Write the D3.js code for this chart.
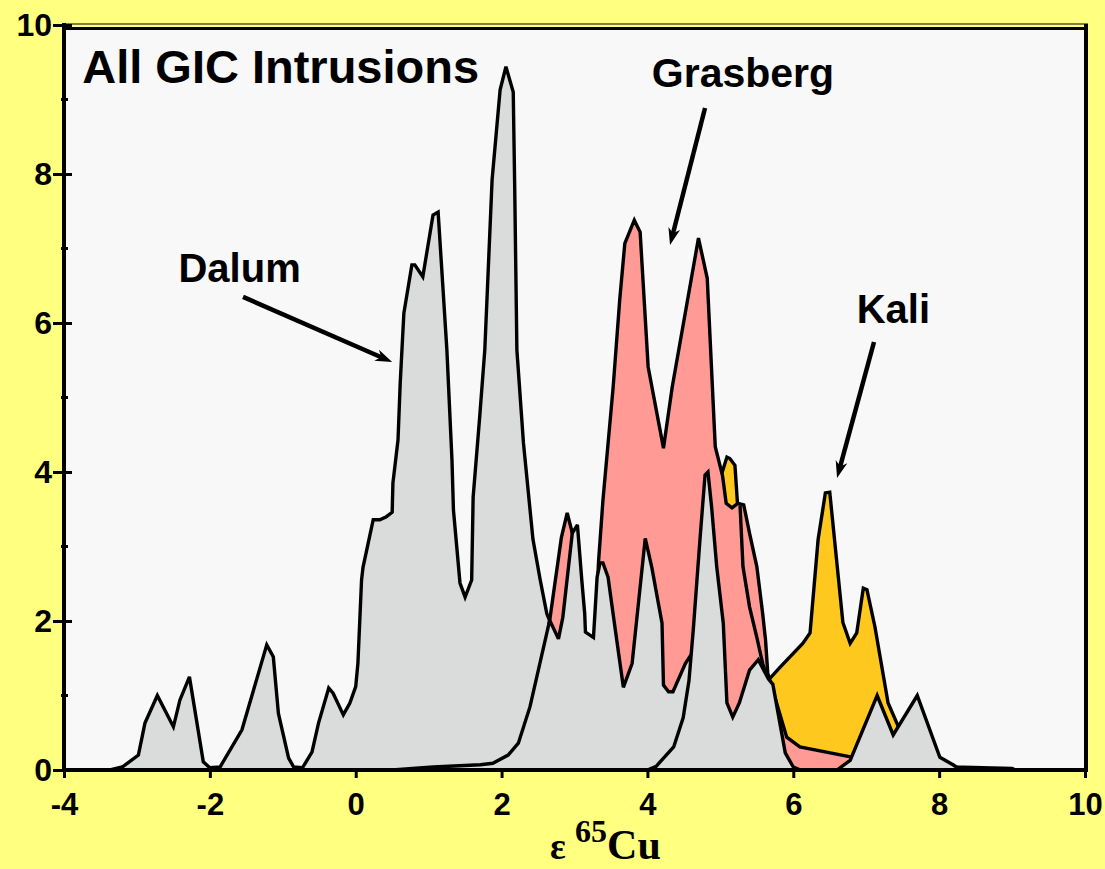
<!DOCTYPE html>
<html>
<head>
<meta charset="utf-8">
<script src="https://cdn.jsdelivr.net/npm/d3@7/dist/d3.min.js"></script>
<style>
  body { margin: 0; background: #ffff80; }
  svg { display: block; }
</style>
</head>
<body>
<div id="chart"></div>
<script>
// probability curves, [eps65Cu, frequency]
var dalum = [[-4,0],[-3.37,0],[-3.2,0.04],[-2.98,0.2],[-2.89,0.63],[-2.72,1.0],[-2.5,0.58],[-2.41,0.94],[-2.28,1.25],
  [-2.09,0.11],[-2.0,0.03],[-1.86,0.04],[-1.56,0.54],[-1.22,1.68],[-1.13,1.52],[-1.06,0.76],[-0.92,0.16],[-0.85,0.04],
  [-0.73,0.03],[-0.6,0.24],[-0.51,0.63],[-0.37,1.1],[-0.31,1.03],[-0.17,0.74],[-0.08,0.9],[0.0,1.12],[0.03,1.43],
  [0.08,2.55],[0.1,2.72],[0.24,3.36],[0.33,3.36],[0.42,3.4],[0.5,3.46],[0.51,3.85],[0.58,4.43],[0.61,5.19],[0.66,6.13],
  [0.77,6.78],[0.81,6.78],[0.92,6.62],[1.06,7.45],[1.13,7.49],[1.25,5.64],[1.32,4.16],[1.34,3.49],[1.43,2.51],[1.5,2.32],
  [1.59,2.55],[1.61,3.66],[1.7,4.74],[1.77,5.64],[1.87,7.92],[1.98,9.13],[2.06,9.44],[2.16,9.1],[2.18,7.83],[2.21,5.64],
  [2.3,4.39],[2.43,3.1],[2.53,2.55],[2.62,2.1],[2.66,2.0],[2.8,1.5],[3.0,0.9],[3.3,0.3],[3.6,0.05],[4.0,0]];

var kali = [[4.75,0],[4.9,2.5],[5.02,3.98],[5.09,4.2],[5.13,4.18],[5.2,4.09],[5.24,3.5],[5.3,2.8],[5.45,1.6],[5.6,1.2],
  [5.68,1.23],[5.82,1.38],[6.13,1.7],[6.23,1.84],[6.34,3.09],[6.44,3.72],[6.5,3.73],[6.68,1.98],[6.78,1.7],[6.87,1.84],
  [6.96,2.44],[7.01,2.42],[7.12,1.92],[7.3,0.9],[7.42,0.63],[7.5,0.45],[7.6,0.2],[7.8,0.05],[8.0,0]];

var grasberg = [[2.0,0],[2.23,0.2],[2.39,0.6],[2.5,1.1],[2.66,2.01],[2.82,3.12],[2.9,3.45],[2.97,3.18],[3.03,2.5],[3.1,1.5],
  [3.2,1.0],[3.27,1.5],[3.33,2.8],[3.39,3.62],[3.53,5.14],[3.62,6.31],[3.69,7.07],[3.82,7.38],[3.9,7.22],[4.01,5.41],
  [4.22,4.32],[4.34,5.14],[4.7,7.14],[4.82,6.6],[4.93,4.34],[5.03,3.95],[5.08,3.58],[5.16,3.52],[5.24,3.58],[5.32,3.56],
  [5.4,3.18],[5.5,2.73],[5.58,2.1],[5.62,1.74],[5.65,1.3],[5.91,0.44],[6.09,0.31],[6.82,0.17],[7.28,0.08],[8.01,0.05],
  [8.19,0.04],[9.0,0.02],[9.05,0]];

// inner edge seen inside the Grasberg fill
var grasbergInner = [[5.27,3.55],[5.31,2.73],[5.4,2.19],[5.5,1.78],[5.58,1.43],[5.65,1.22]];

// unlabelled intrusions (grey)
var intrusionB = [[0.5,0],[1.06,0.04],[1.71,0.07],[1.88,0.09],[2.09,0.2],[2.23,0.36],[2.39,0.85],[2.66,2.01],[2.78,1.76],
  [2.84,2.05],[2.97,3.18],[3.04,3.29],[3.1,2.55],[3.14,2.1],[3.15,1.85],[3.26,1.78],[3.31,2.59],[3.35,2.78],[3.39,2.78],
  [3.46,2.59],[3.56,1.88],[3.67,1.11],[3.79,1.43],[3.97,3.11],[4.06,2.72],[4.2,1.97],[4.22,1.14],[4.29,1.05],[4.35,1.05],
  [4.52,1.43],[4.6,1.55],[4.7,1.2],[4.8,0.6],[4.95,0.15],[5.1,0]];

var intrusionC = [[4.0,0],[4.12,0.05],[4.36,0.31],[4.49,0.7],[4.57,1.2],[4.63,1.9],[4.72,3.09],[4.79,3.96],[4.83,4.0],
  [4.88,3.53],[4.95,2.73],[5.04,1.97],[5.09,0.9],[5.17,0.71],[5.26,0.9],[5.4,1.34],[5.52,1.48],[5.66,1.22],[5.72,1.15],
  [5.89,0.23],[6.0,0.04],[6.1,0],[6.6,0],[6.78,0.13],[7.15,1.0],[7.37,0.47],[7.7,1.0],[8.01,0.17],[8.19,0.07],[8.3,0]];

var xTicks = [-4, -2, 0, 2, 4, 6, 8, 10];
var yTicks = [0, 2, 4, 6, 8, 10];
var yMinor = [1, 3, 5, 7, 9];

var w = 1105, h = 869;
var svg = d3.select("#chart").append("svg")
  .attr("width", w)
  .attr("height", h);

svg.append("rect").attr("width", w).attr("height", h).attr("fill", "#ffff80");

var x = d3.scaleLinear().domain([-4, 10]).range([64, 1085]);
var y = d3.scaleLinear().domain([0, 10]).range([770, 25]);

// plot area
svg.append("rect")
  .attr("x", x(-4)).attr("y", 27)
  .attr("width", x(10) - x(-4)).attr("height", y(0) - 27)
  .attr("fill", "#f8f8f8");

var area = d3.area()
  .x(d => x(d[0]))
  .y0(y(0))
  .y1(d => y(d[1]));
var line = d3.line()
  .x(d => x(d[0]))
  .y(d => y(d[1]));

var gray = "#d9dcda", pink = "#ff9a94", gold = "#ffc81e";
var layers = [
  {data: dalum, fill: gray},
  {data: kali, fill: gold},
  {data: grasberg, fill: pink},
  {data: intrusionB, fill: gray},
  {data: grasbergInner, fill: null},
  {data: intrusionC, fill: gray}
];

var g = svg.append("g");
layers.forEach(function(l) {
  if (l.fill) {
    g.append("path").attr("d", area(l.data)).attr("fill", l.fill);
  }
  g.append("path").attr("d", line(l.data))
    .attr("fill", "none")
    .attr("stroke", "black")
    .attr("stroke-width", 3.4)
    .attr("stroke-linejoin", "miter")
    .attr("stroke-miterlimit", 3);
});

// frame
svg.append("line").attr("x1", x(-4)).attr("x2", x(10) + 3).attr("y1", 24).attr("y2", 24)
  .attr("stroke", "black").attr("stroke-width", 1.2);
svg.append("line").attr("x1", x(-4)).attr("x2", x(10) + 3).attr("y1", 28.5).attr("y2", 28.5)
  .attr("stroke", "black").attr("stroke-width", 3);
svg.append("line").attr("x1", x(10) + 1).attr("x2", x(10) + 1).attr("y1", 24).attr("y2", y(0))
  .attr("stroke", "black").attr("stroke-width", 4);

var tickFont = "Liberation Sans, Arial, sans-serif";

// y axis
var yAxis = svg.append("g")
  .attr("transform", "translate(" + x(-4) + ",0)")
  .call(d3.axisLeft(y).tickValues(yTicks).tickSize(11).tickPadding(1).tickFormat(d => String(d)));
yAxis.select(".domain").remove();
yAxis.selectAll(".tick line").attr("x1", 8).attr("stroke-width", 3);
yAxis.selectAll(".tick text")
  .attr("font-family", tickFont)
  .attr("font-weight", "bold")
  .attr("font-size", 32)
  .attr("fill", "black");
svg.append("g").selectAll("line")
  .data(yMinor).enter().append("line")
  .attr("x1", x(-4) - 3).attr("x2", x(-4) + 4)
  .attr("y1", d => y(d)).attr("y2", d => y(d))
  .attr("stroke", "black").attr("stroke-width", 3);
svg.append("line").attr("x1", x(-4)).attr("x2", x(-4)).attr("y1", 23).attr("y2", y(0) + 2)
  .attr("stroke", "black").attr("stroke-width", 4);

// x axis
var xAxis = svg.append("g")
  .attr("transform", "translate(0," + y(0) + ")")
  .call(d3.axisBottom(x).tickValues(xTicks).tickSize(8).tickPadding(15).tickFormat(d => String(d)));
xAxis.select(".domain").remove();
xAxis.selectAll(".tick line").attr("stroke-width", 3);
xAxis.selectAll(".tick text")
  .attr("font-family", tickFont)
  .attr("font-weight", "bold")
  .attr("font-size", 31)
  .attr("fill", "black");
svg.append("line").attr("x1", x(-4) - 2).attr("x2", x(10) + 3).attr("y1", y(0)).attr("y2", y(0))
  .attr("stroke", "black").attr("stroke-width", 4);

// axis title: epsilon 65Cu
var title = svg.append("text")
  .attr("x", 550).attr("y", 859)
  .attr("font-family", "Liberation Serif, Times New Roman, serif")
  .attr("font-weight", "bold")
  .attr("fill", "black");
title.append("tspan").attr("font-size", 37).text("ε ");
title.append("tspan").attr("font-size", 32).attr("dy", -17).text("65");
title.append("tspan").attr("font-size", 42).attr("dy", 17).text("Cu");

// labels and arrows (data coordinates)
var labels = [
  {text: "All GIC Intrusions", x: -3.75, y: 9.22, size: 47},
  {text: "Grasberg", x: 4.06, y: 9.17, size: 41},
  {text: "Dalum", x: -2.43, y: 6.55, size: 40},
  {text: "Kali", x: 6.87, y: 6.0, size: 40}
];
svg.append("g").selectAll("text")
  .data(labels).enter().append("text")
  .attr("x", d => x(d.x)).attr("y", d => y(d.y))
  .attr("font-family", "Liberation Sans, Arial, sans-serif")
  .attr("font-weight", "bold")
  .attr("font-size", d => d.size)
  .attr("fill", "black")
  .text(d => d.text);

var arrows = [
  {from: [-1.545, 6.35], to: [0.5, 5.477]},
  {from: [4.79, 8.886], to: [4.31, 7.047]},
  {from: [7.107, 5.745], to: [6.6, 3.919]}
];
arrows.forEach(function(a) {
  var x1 = x(a.from[0]), y1 = y(a.from[1]), x2 = x(a.to[0]), y2 = y(a.to[1]);
  var ang = Math.atan2(y2 - y1, x2 - x1);
  var len = 17, half = 6;
  var bx = x2 - len * Math.cos(ang), by = y2 - len * Math.sin(ang);
  svg.append("line")
    .attr("x1", x1).attr("y1", y1)
    .attr("x2", x2 - 10 * Math.cos(ang)).attr("y2", y2 - 10 * Math.sin(ang))
    .attr("stroke", "black").attr("stroke-width", 4.5);
  var pts = [[x2, y2],
    [bx + half * Math.sin(ang), by - half * Math.cos(ang)],
    [x2 - 12 * Math.cos(ang), y2 - 12 * Math.sin(ang)],
    [bx - half * Math.sin(ang), by + half * Math.cos(ang)]];
  svg.append("polygon").attr("points", pts.map(p => p.join(",")).join(" ")).attr("fill", "black");
});
</script>
</body>
</html>
